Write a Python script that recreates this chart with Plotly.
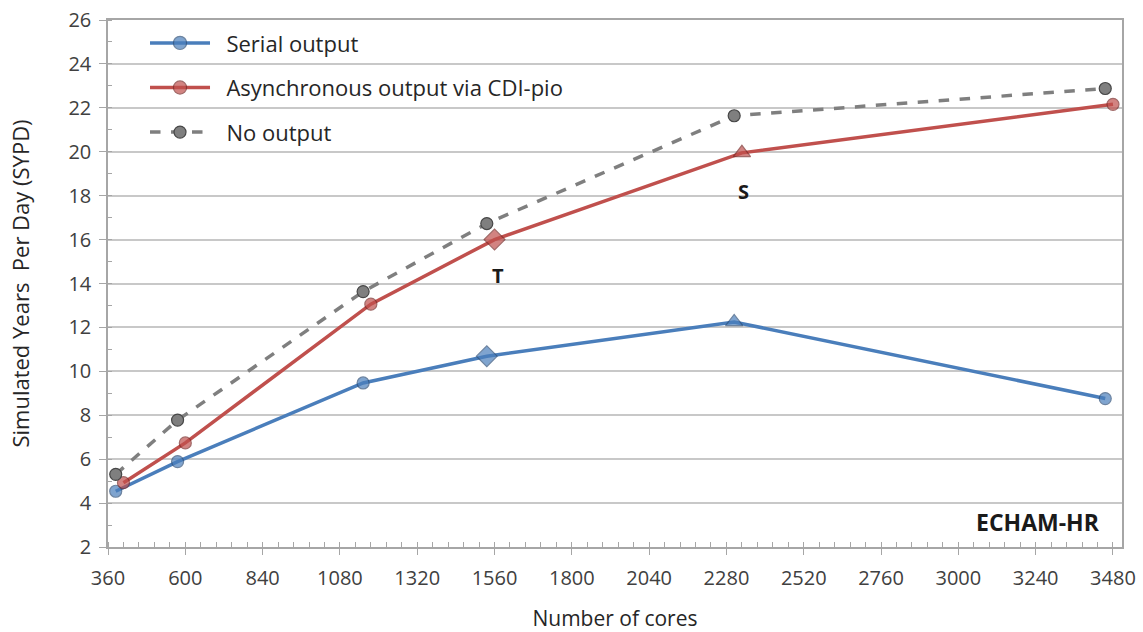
import plotly.graph_objects as go

# Data
cores_serial = [384, 576, 1152, 1536, 2304, 3456]
sypd_serial = [4.54, 5.89, 9.47, 10.69, 12.25, 8.76]
symbols_serial = ["circle", "circle", "circle", "diamond", "triangle-up", "circle"]

cores_async = [408, 600, 1176, 1560, 2328, 3480]
sypd_async = [4.93, 6.74, 13.06, 16.0, 19.95, 22.16]
symbols_async = ["circle", "circle", "circle", "diamond", "triangle-up", "circle"]

cores_noout = [384, 576, 1152, 1536, 2304, 3456]
sypd_noout = [5.31, 7.78, 13.63, 16.73, 21.64, 22.88]

x_ticks = [360, 600, 840, 1080, 1320, 1560, 1800, 2040, 2280, 2520, 2760, 3000, 3240, 3480]
y_ticks = list(range(2, 27, 2))

labels = [("T", 1570, 14.38), ("S", 2334, 18.17)]

FONT = "Open Sans"
PAD = "\u00a0\u00a0"

def sizes(symbols):
    return [16 if s == "diamond" else (15 if s.startswith("triangle") else 12) for s in symbols]

fig = go.Figure()
fig.add_trace(go.Scatter(
    x=cores_serial, y=sypd_serial, mode="lines+markers", name=PAD + "Serial output",
    legendgroup="a",
    line=dict(color="#4A7EBB", width=3.5),
    marker=dict(symbol=symbols_serial, size=sizes(symbols_serial), color="#4A7EBB",
                line=dict(color="#2F5079", width=1.2)),
))
fig.add_trace(go.Scatter(
    x=cores_async, y=sypd_async, mode="lines+markers", name=PAD + "Asynchronous output via CDI-pio",
    legendgroup="b",
    line=dict(color="#C0504D", width=3.5),
    marker=dict(symbol=symbols_async, size=sizes(symbols_async), color="#C0504D",
                line=dict(color="#7A2C2A", width=1.2)),
))
fig.add_trace(go.Scatter(
    x=cores_noout, y=sypd_noout, mode="lines+markers", name=PAD + "No output",
    legendgroup="c",
    line=dict(color="#7F7F7F", width=3.5, dash="dash"),
    marker=dict(symbol="circle", size=12, color="#7F7F7F",
                line=dict(color="#474747", width=1.2)),
))

for txt, xv, yv in labels:
    fig.add_annotation(x=xv, y=yv, text="<b>%s</b>" % txt, showarrow=False,
                       font=dict(family=FONT, size=20, color="#1a1a1a"))

fig.add_annotation(x=3445, y=3.13, text="<b>ECHAM-HR</b>", showarrow=False, xanchor="right",
                   font=dict(family=FONT, size=23, color="#1a1a1a"))

fig.update_layout(
    width=1143, height=632,
    margin=dict(l=108, r=21, t=20, b=85),
    paper_bgcolor="white", plot_bgcolor="white",
    font=dict(family=FONT, size=20, color="#404040"),
    showlegend=True,
    legend=dict(x=0.0365, y=0.996, xanchor="left", yanchor="top",
                bgcolor="rgba(255,255,255,0)", font=dict(size=22, color="#262626"),
                itemwidth=60, tracegroupgap=13),
    xaxis=dict(
        range=[360, 3508], tickvals=x_ticks, ticktext=[str(v) for v in x_ticks],
        showgrid=False, zeroline=False, automargin=False,
        showline=True, linecolor="#A6A6A6", linewidth=1.5, mirror=True,
        ticks="outside", ticklen=6, tickcolor="#A6A6A6",
        minor=dict(dtick=48, tick0=360, ticks="inside", ticklen=5, tickcolor="#A6A6A6", showgrid=False),
        tickfont=dict(size=20, color="#404040"), ticklabelstandoff=6, ticklabeloverflow="allow",
        title=dict(text="Number of cores", font=dict(size=21, color="#262626"), standoff=24),
    ),
    yaxis=dict(
        range=[2, 26], tickvals=y_ticks,
        showgrid=True, gridcolor="#C8C8C8", gridwidth=1.5, zeroline=False, automargin=False,
        showline=True, linecolor="#A6A6A6", linewidth=1.5, mirror=True,
        ticks="outside", ticklen=7, tickcolor="#A6A6A6",
        minor=dict(dtick=1, tick0=2, ticks="inside", ticklen=4, tickcolor="#A6A6A6", showgrid=False),
        tickfont=dict(size=20, color="#404040"), ticklabelstandoff=4, ticklabeloverflow="allow",
        title=dict(text="Simulated Years\u00a0 Per Day (SYPD)", font=dict(size=22, color="#262626"), standoff=33),
    ),
)

# remove the default page margin so the figure fills the window exactly
fig.write_html("out.html", config={"displayModeBar": False},
               post_script="document.body.style.margin='0';")
